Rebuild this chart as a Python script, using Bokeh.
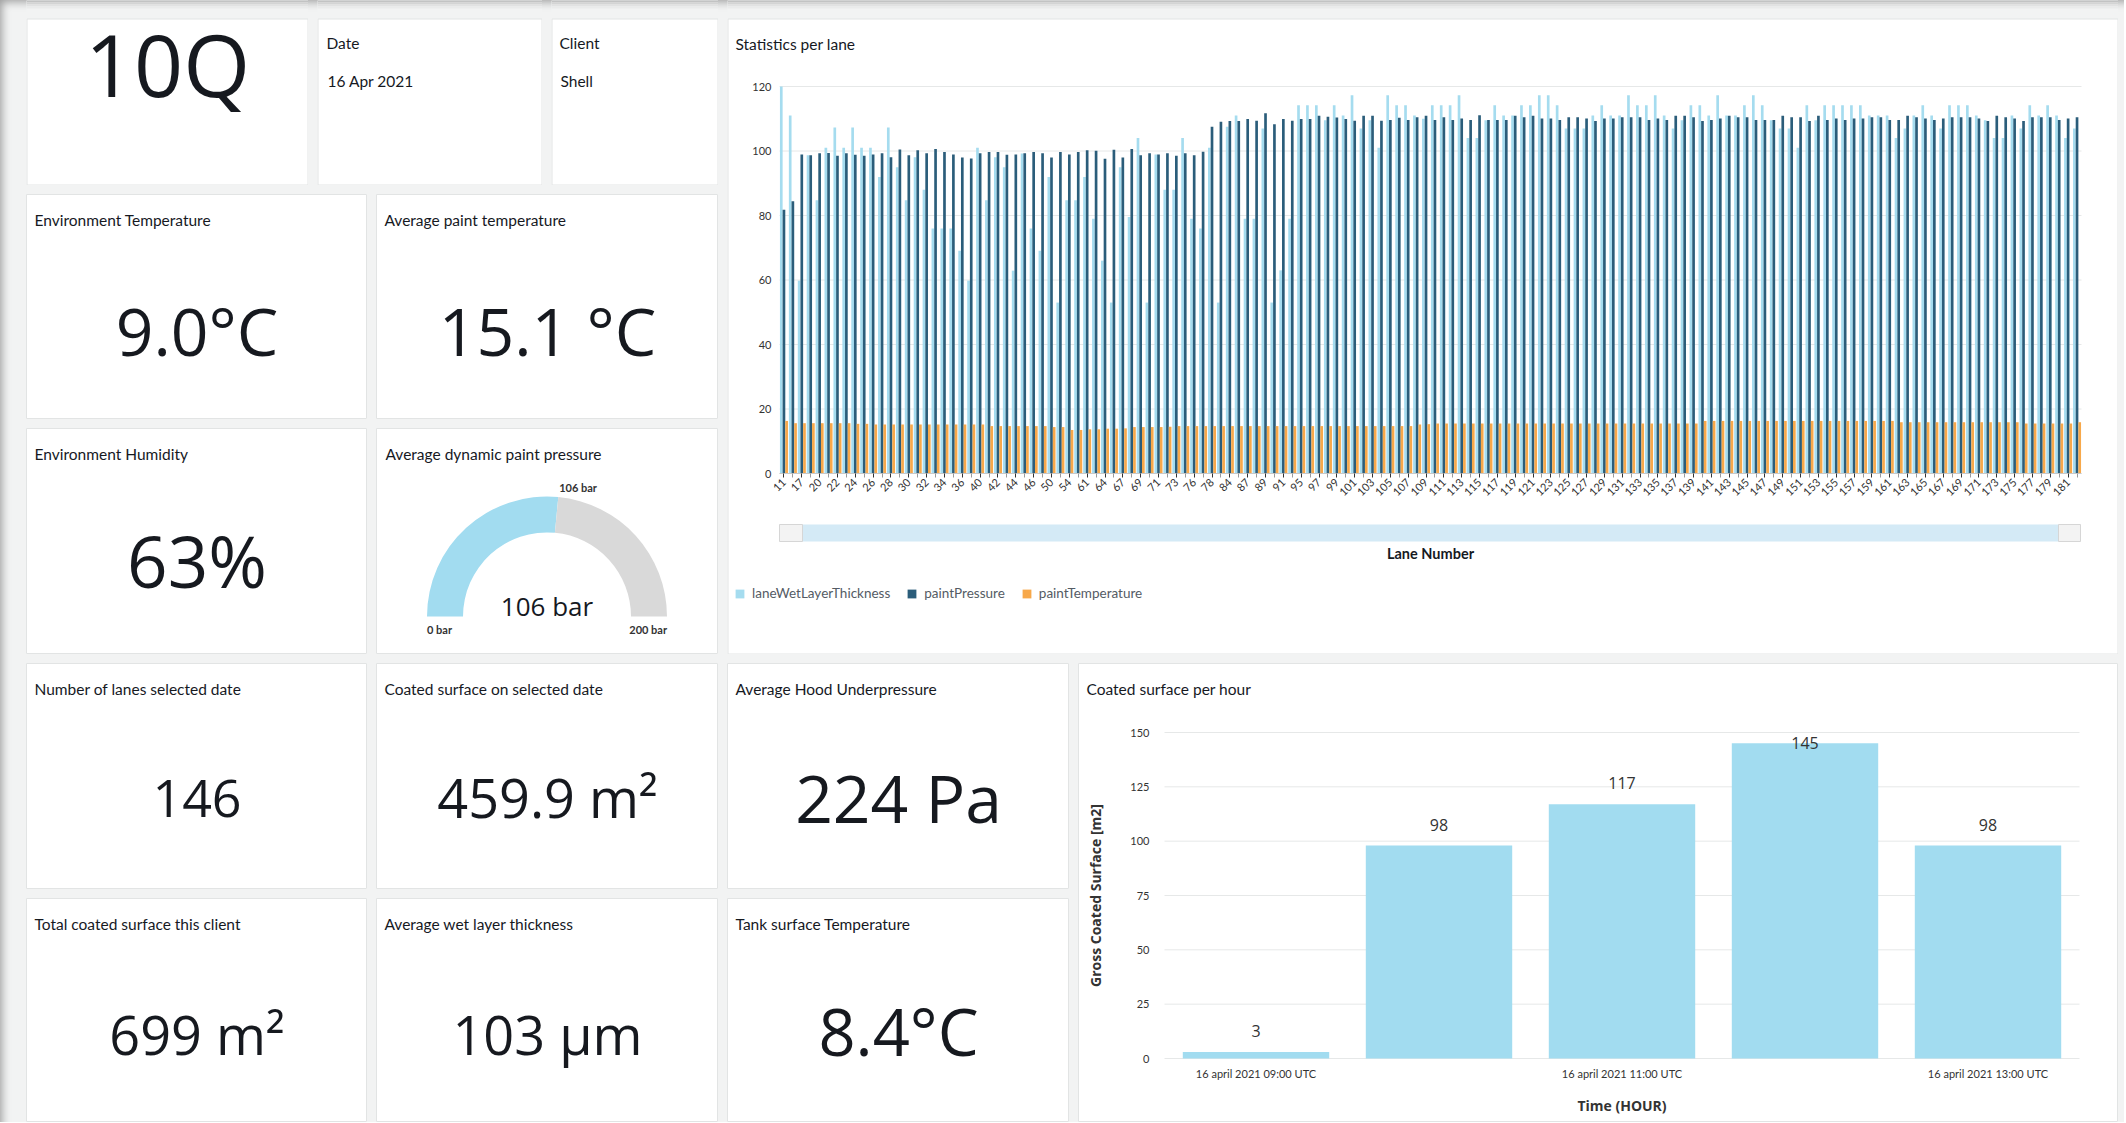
from math import pi, cos, sin
from bokeh.plotting import figure
from bokeh.layouts import row, column
from bokeh.models import Spacer, Range1d, ColumnDataSource, FixedTicker
from bokeh.transform import dodge
from bokeh.core.properties import value
from bokeh.embed import file_html
from bokeh.resources import INLINE

# ---------------- data ----------------
machine_id = "10Q"
report_date = "16 Apr 2021"
client_name = "Shell"

kpi_titles = ["Environment Temperature", "Average paint temperature", "Environment Humidity",
              "Number of lanes selected date", "Coated surface on selected date", "Average Hood Underpressure",
              "Total coated surface this client", "Average wet layer thickness", "Tank surface Temperature"]
kpi_values = ["9.0°C", "15.1 °C", "63%", "146", "459.9 m²", "224 Pa", "699 m²", "103 µm", "8.4°C"]

gauge_title = "Average dynamic paint pressure"
gauge_value = 106
gauge_min = 0
gauge_max = 200
gauge_unit = "bar"

lanes = ["11", "14", "17", "19", "20", "21", "22", "23", "24", "25",
         "26", "27", "28", "29", "30", "31", "32", "33", "34", "35",
         "36", "38", "40", "41", "42", "43", "44", "45", "46", "48",
         "50", "52", "54", "57", "61", "62", "64", "65", "67", "68",
         "69", "70", "71", "72", "73", "74", "76", "77", "78", "80",
         "84", "85", "87", "88", "89", "90", "91", "93", "95", "96",
         "97", "98", "99", "100", "101", "102", "103", "104", "105", "106",
         "107", "108", "109", "110", "111", "112", "113", "114", "115", "116",
         "117", "118", "119", "120", "121", "122", "123", "124", "125", "126",
         "127", "128", "129", "130", "131", "132", "133", "134", "135", "136",
         "137", "138", "139", "140", "141", "142", "143", "144", "145", "146",
         "147", "148", "149", "150", "151", "152", "153", "154", "155", "156",
         "157", "158", "159", "160", "161", "162", "163", "164", "165", "166",
         "167", "168", "169", "170", "171", "172", "173", "174", "175", "176",
         "177", "178", "179", "180", "181", "182"]

lane_wet_layer_thickness = [
    120, 111, 59.8, 98.7, 84.7, 101, 107.3, 101, 107.3, 101,
    101, 91.9, 107.3, 95, 84.7, 98.1, 88, 76, 76, 76,
    69.1, 59.8, 101, 84.7, 98.1, 95, 62.9, 99.2, 76, 69.1,
    91.9, 53, 84.7, 84.7, 91.9, 79, 66, 53, 95, 79.5,
    104, 53, 98.9, 88, 88, 104, 79, 76, 101, 53,
    107.5, 111, 79, 79, 107, 53, 63, 79, 114.2, 114.2,
    114.2, 109.5, 114.2, 111, 117.3, 107, 109.5, 101, 117.3, 114.2,
    114.2, 111, 110, 114.2, 114.2, 114.2, 117.3, 104, 104, 109.5,
    114.2, 111, 111, 114.2, 114.2, 117.3, 117.3, 114.2, 107, 107,
    107, 111, 114.2, 111, 111, 117.3, 114.2, 114.2, 117.3, 111,
    107, 109.5, 114.2, 114.2, 111, 117.3, 111, 111, 114.2, 117.3,
    114.2, 109.5, 107, 107, 101, 114.2, 109.5, 114.2, 114.2, 114.2,
    114.2, 114.2, 111, 111, 111, 104, 107, 111, 114.2, 111,
    107, 114.2, 114.2, 114.2, 111, 109.5, 104, 104, 111, 107,
    114.2, 111, 114.2, 111, 104, 107]

paint_pressure = [
    81.8, 84.4, 98.9, 98.7, 99.3, 99.4, 98.5, 99.3, 98.8, 98.5,
    98.9, 99.3, 98.1, 100.5, 98.7, 100.2, 99.3, 100.6, 99.7, 98.9,
    98.0, 97.7, 99.3, 99.7, 99.7, 98.8, 98.9, 99.3, 99.7, 99.3,
    98.0, 99.7, 98.9, 99.7, 100.2, 100.1, 97.6, 100.4, 98.0, 100.6,
    98.7, 99.3, 98.9, 99.3, 98.5, 99.3, 98.7, 99.8, 107.5, 109.1,
    109.3, 109.3, 109.9, 109.4, 111.7, 108.3, 109.9, 109.4, 109.9, 109.9,
    110.9, 110.6, 110.4, 109.9, 109.4, 110.9, 110.9, 109.4, 109.6, 110.3,
    109.6, 110.5, 110.9, 109.6, 110.5, 109.6, 110.1, 109.6, 111.1, 109.6,
    109.6, 109.6, 110.9, 110.5, 110.9, 110.1, 110.1, 109.6, 110.5, 110.5,
    110.1, 109.3, 110.1, 110.1, 110.5, 110.5, 110.5, 109.6, 110.1, 109.6,
    110.9, 110.9, 110.5, 109.3, 109.6, 110.1, 110.9, 110.5, 110.5, 109.6,
    109.6, 109.6, 110.9, 110.5, 110.5, 109.3, 110.9, 109.6, 110.1, 109.6,
    110.1, 110.1, 110.5, 110.5, 109.6, 109.6, 110.9, 110.5, 110.1, 109.6,
    110.1, 110.5, 110.5, 110.5, 110.1, 109.3, 110.9, 110.5, 110.1, 109.3,
    110.5, 110.5, 110.5, 109.6, 110.1, 110.5]

paint_temperature = [
    16.3, 15.6, 15.6, 15.6, 15.6, 15.6, 15.6, 15.6, 15.4, 15.4,
    15.2, 15.2, 15.2, 15.2, 15.2, 15.2, 15.2, 15.2, 15.2, 15.2,
    15.2, 15.2, 15.2, 14.7, 14.7, 14.7, 14.7, 14.7, 14.7, 14.7,
    14.4, 14.4, 13.5, 13.5, 13.7, 13.7, 13.9, 13.9, 14.0, 14.4,
    14.4, 14.4, 14.4, 14.5, 14.7, 14.7, 14.7, 14.7, 14.7, 14.7,
    14.7, 14.7, 14.7, 14.7, 14.7, 14.7, 14.7, 14.7, 14.7, 14.7,
    14.7, 14.7, 14.7, 14.7, 14.7, 14.7, 14.7, 14.7, 14.7, 14.7,
    14.7, 15.2, 15.3, 15.5, 15.5, 15.5, 15.5, 15.5, 15.5, 15.5,
    15.5, 15.5, 15.5, 15.5, 15.5, 15.5, 15.5, 15.5, 15.5, 15.5,
    15.5, 15.5, 15.5, 15.5, 15.5, 15.5, 15.5, 15.5, 15.5, 15.5,
    15.5, 15.5, 15.5, 16.3, 16.3, 16.3, 16.3, 16.3, 16.3, 16.3,
    16.3, 16.3, 16.3, 16.3, 16.3, 16.3, 16.3, 16.3, 16.3, 16.3,
    16.3, 16.3, 16.3, 16.3, 16.3, 15.9, 15.9, 15.9, 15.9, 15.9,
    15.9, 15.9, 15.9, 15.9, 15.9, 15.9, 15.9, 15.9, 15.9, 15.5,
    15.5, 15.5, 15.5, 15.5, 15.5, 15.9]

series_names = ["laneWetLayerThickness", "paintPressure", "paintTemperature"]
lane_y_ticks = [0, 20, 40, 60, 80, 100, 120]

hours = ["16 april 2021 09:00 UTC", "16 april 2021 10:00 UTC", "16 april 2021 11:00 UTC",
         "16 april 2021 12:00 UTC", "16 april 2021 13:00 UTC"]
hour_tick_labels = ["16 april 2021 09:00 UTC", "", "16 april 2021 11:00 UTC", "", "16 april 2021 13:00 UTC"]
coated_per_hour = [3, 98, 117, 145, 98]
hour_y_ticks = [0, 25, 50, 75, 100, 125, 150]

# ---------------- style ----------------
PAGE_BG = "#f2f3f3"
CARD_BORDER = "#e2e4e4"
INK = "#16191f"
C_WET = "#a5dcef"
C_PRES = "#2b5d7a"
C_TEMP = "#f7a84a"
C_HOUR = "#a2dcf0"
GRID = "#e6e8e8"
F_TXT = value("Lato")
F_NUM = value("Open Sans")
MID = 0.385  # em-box middle above baseline
BAND = 18    # page gap above the first row, drawn inside the first-row figures
SHADE = ["#c2c3c3", "#d3d4d4", "#e1e2e2", "#eaebeb"]
CARD_H = {}


def blank(w, h, band=0):
    p = figure(width=w, height=h + band, x_range=Range1d(0, w), y_range=Range1d(0, h + band),
               x_axis_type=None, y_axis_type=None, toolbar_location=None,
               output_backend="svg", min_border=0, title=None,
               background_fill_color="white" if band == 0 else PAGE_BG, border_fill_color="white",
               outline_line_color=CARD_BORDER if band == 0 else None)
    CARD_H[id(p)] = h
    if band:
        p.quad(left=[0.5], right=[w - 0.5], bottom=[0.5], top=[h - 0.5],
               fill_color="white", line_color=CARD_BORDER)
        for k, c in enumerate(SHADE):
            p.quad(left=[0], right=[w], top=[h + band - 2 * k], bottom=[h + band - 2 * k - 2],
                   fill_color=c, line_color=None)
    return p


def put(p, x, y, s, size, font=F_TXT, color=INK, align="left", style="normal"):
    # y is measured from the top of the card, text is vertically centred there
    p.text(x=[x], y=[CARD_H[id(p)] - y], text=[s], text_font=font, text_font_size=f"{size}px",
           text_color=color, text_align=align, text_baseline="middle", text_font_style=style)


def kpi_card(w, h, title, val, size, base):
    p = blank(w, h)
    put(p, 8, 25, title, 15.5)
    put(p, w / 2, base - MID * size, val, size, font=F_NUM, align="center")
    return p


# top row small cards (with the page gap above them)
c_id = blank(282, 167, BAND)
put(c_id, 141, 78 - MID * 86, machine_id, 86, font=F_NUM, align="center")

c_date = blank(225, 167, BAND)
put(c_date, 9, 24, "Date", 15.5)
put(c_date, 10, 62, report_date, 15.5)

c_client = blank(167, 167, BAND)
put(c_client, 8, 24, "Client", 15.5)
put(c_client, 9, 62, client_name, 15.5)

c_envt = kpi_card(341, 225, kpi_titles[0], kpi_values[0], 66, 161)
c_paintt = kpi_card(342, 225, kpi_titles[1], kpi_values[1], 66, 161)
c_hum = kpi_card(341, 226, kpi_titles[2], kpi_values[2], 71, 159)

# gauge card
GW, GH = 342, 226
c_gauge = blank(GW, GH)
put(c_gauge, 9, 25, gauge_title, 15.5)
cx, cy, r_in, r_out = 170.5, GH - 188, 84, 120
ang = pi * (1 - (gauge_value - gauge_min) / (gauge_max - gauge_min))
c_gauge.annular_wedge(x=[cx], y=[cy], inner_radius=r_in, outer_radius=r_out,
                      start_angle=ang, end_angle=pi, fill_color=C_HOUR, line_color=None)
c_gauge.annular_wedge(x=[cx], y=[cy], inner_radius=r_in, outer_radius=r_out,
                      start_angle=0, end_angle=ang, fill_color="#d9d9d9", line_color=None)
put(c_gauge, cx, 188 - MID * 26, f"{gauge_value} {gauge_unit}", 26, font=F_NUM, align="center")
put(c_gauge, cx - r_out, 201, f"{gauge_min} {gauge_unit}", 11, color="#333333", style="bold")
put(c_gauge, cx + r_out, 201, f"{gauge_max} {gauge_unit}", 11, color="#333333", align="right", style="bold")
put(c_gauge, cx + 130 * cos(ang), 188 - 130 * sin(ang), f"{gauge_value} {gauge_unit}", 11,
    color="#333333", style="bold")

c_lanes = kpi_card(341, 226, kpi_titles[3], kpi_values[3], 52, 155)
c_coated = kpi_card(342, 226, kpi_titles[4], kpi_values[4], 54, 154)
c_hood = kpi_card(342, 226, kpi_titles[5], kpi_values[5], 66, 159)
R5 = 224
c_total = kpi_card(341, R5, kpi_titles[6], kpi_values[6], 54, 156)
c_wet = kpi_card(342, R5, kpi_titles[7], kpi_values[7], 54, 156)
c_tank = kpi_card(342, R5, kpi_titles[8], kpi_values[8], 65, 158)


class Mapper:
    """pixel (from figure left / from card top) -> data coordinates of a whole-figure frame"""
    def __init__(self, w, h, xr, yr, top_off=0):
        self.w, self.h, self.xr, self.yr, self.off = w, h, xr, yr, top_off

    def x(self, px):
        return self.xr[0] + px * (self.xr[1] - self.xr[0]) / self.w

    def y(self, py):
        return self.yr[1] - (py + self.off) * (self.yr[1] - self.yr[0]) / self.h


# ---------------- lane chart card ----------------
LW, LH = 1391, 636
FH = LH + BAND
n = len(lanes)
L_left, L_right, L_top, L_bot = 52, 37, 68 + BAND, 181
xs = (LW - L_left - L_right) / n
ys = (FH - L_top - L_bot) / 120
lxr = (-0.5 - L_left / xs, n - 0.5 + L_right / xs)
lyr = (-L_bot / ys, 120 + L_top / ys)
lm = Mapper(LW, FH, lxr, lyr, BAND)

src = ColumnDataSource(dict(pos=list(range(n)), lane=lanes, wet=lane_wet_layer_thickness,
                            pres=paint_pressure, temp=paint_temperature))
pl = figure(width=LW, height=FH, x_range=Range1d(*lxr), y_range=Range1d(*lyr),
            toolbar_location=None, output_backend="svg", title=None, min_border=0,
            outline_line_color=None, background_fill_color=PAGE_BG, border_fill_color="white")
pl.grid.visible = False
pl.quad(left=[lm.x(0.5)], right=[lm.x(LW - 0.5)], top=[lm.y(0.5)], bottom=[lm.y(LH - 0.5)],
        fill_color="white", line_color=CARD_BORDER)
for k, c in enumerate(SHADE):
    pl.quad(left=[lxr[0]], right=[lxr[1]], top=[lm.y(-BAND + 2 * k)], bottom=[lm.y(-BAND + 2 * k + 2)],
            fill_color=c, line_color=None)
pl.segment(x0=[-0.5] * len(lane_y_ticks), x1=[n - 0.5] * len(lane_y_ticks),
           y0=lane_y_ticks, y1=lane_y_ticks, line_color=GRID, line_width=1)
for off, fld, col, nm in zip([-0.3, 0.0, 0.3], ["wet", "pres", "temp"], [C_WET, C_PRES, C_TEMP], series_names):
    pl.vbar(x=dodge("pos", off), top=fld, width=0.3, source=src, fill_color=col, line_color=None,
            legend_label=nm)

pl.xaxis.fixed_location = 0
pl.yaxis.fixed_location = -0.5
pl.xaxis.bounds = (-0.5, n - 0.5)
pl.yaxis.bounds = (0, 120)
pl.yaxis.ticker = FixedTicker(ticks=lane_y_ticks)
pl.yaxis.axis_line_color = None
pl.yaxis.major_tick_line_color = None
pl.yaxis.minor_tick_line_color = None
pl.yaxis.major_tick_out = 0
pl.yaxis.minor_tick_out = 0
pl.yaxis.major_label_standoff = 8
pl.axis.major_label_text_font = "Lato"
pl.axis.major_label_text_font_size = "11px"
pl.axis.major_label_text_color = "#333333"
pl.xaxis.ticker = FixedTicker(ticks=list(range(0, n, 2)), minor_ticks=list(range(1, n, 2)))
pl.xaxis.major_label_overrides = {i: lanes[i] for i in range(0, n, 2)}
pl.xaxis.major_label_orientation = pi / 4
pl.xaxis.axis_line_color = "#c8c8c8"
pl.xaxis.major_tick_line_color = "#333333"
pl.xaxis.minor_tick_line_color = "#9a9a9a"
pl.xaxis.major_tick_out = 4
pl.xaxis.major_tick_in = 0
pl.xaxis.minor_tick_out = 4
pl.xaxis.minor_tick_in = 0
pl.xaxis.major_label_standoff = 3

# title, scrollbar, axis title
pl.text(x=[lm.x(8)], y=[lm.y(25)], text=["Statistics per lane"], text_font=F_TXT,
        text_font_size="15.5px", text_color=INK, text_baseline="middle")
pl.quad(left=[lm.x(52)], right=[lm.x(1353)], bottom=[lm.y(523)], top=[lm.y(506)],
        fill_color="#d4eaf6", line_color=None)
pl.quad(left=[lm.x(52), lm.x(1331)], right=[lm.x(75), lm.x(1353)],
        bottom=[lm.y(523)] * 2, top=[lm.y(506)] * 2, fill_color="#f3f3f3", line_color="#d6d6d6")
pl.text(x=[lm.x(703)], y=[lm.y(535)], text=["Lane Number"], text_font=F_TXT,
        text_font_size="14.5px", text_color=INK, text_align="center", text_baseline="middle",
        text_font_style="bold")

lg = pl.legend[0]
lg.location = (7, LH - 576 - 7)
lg.orientation = "horizontal"
lg.margin = 0
lg.padding = 0
lg.spacing = 16
lg.glyph_width = 11
lg.glyph_height = 11
lg.label_standoff = 7
lg.label_height = 12
lg.label_text_font = "Lato"
lg.label_text_font_size = "13.5px"
lg.label_text_color = "#545b64"
lg.border_line_color = None
lg.background_fill_alpha = 0

# ---------------- hourly chart card ----------------
HW = 1040
HH = 226 + 9 + R5
m = len(hours)
H_left, H_right, H_top, H_bot0 = 86, 39, 69, 395
ymax = 150
hxs = (HW - H_left - H_right) / m
hys = (H_bot0 - H_top) / ymax
hxr = (-0.5 - H_left / hxs, m - 0.5 + H_right / hxs)
hyr = (-(HH - H_bot0) / hys, ymax + H_top / hys)
hm = Mapper(HW, HH, hxr, hyr)

label_y = [min(v + 21 / hys, ymax - 10 / hys) for v in coated_per_hour]
hsrc = ColumnDataSource(dict(pos=list(range(m)), hour=hours, val=coated_per_hour, ly=label_y,
                             lab=[str(v) for v in coated_per_hour]))
ph = figure(width=HW, height=HH, x_range=Range1d(*hxr), y_range=Range1d(*hyr),
            toolbar_location=None, output_backend="svg", title=None, min_border=0,
            outline_line_color=CARD_BORDER, background_fill_color="white", border_fill_color="white")
ph.grid.visible = False
ph.segment(x0=[-0.5] * len(hour_y_ticks), x1=[m - 0.5] * len(hour_y_ticks),
           y0=hour_y_ticks, y1=hour_y_ticks, line_color=GRID, line_width=1)
ph.vbar(x="pos", top="val", width=0.8, source=hsrc, fill_color=C_HOUR, line_color=None)
ph.text(x="pos", y="ly", text="lab", source=hsrc, text_font=F_NUM, text_font_size="16px",
        text_color="#333333", text_align="center", text_baseline="middle")
ph.text(x=[hm.x(8)], y=[hm.y(25)], text=["Coated surface per hour"], text_font=F_TXT,
        text_font_size="15.5px", text_color=INK, text_baseline="middle")

ph.xaxis.fixed_location = 0
ph.yaxis.fixed_location = -0.5
ph.xaxis.bounds = (-0.5, m - 0.5)
ph.yaxis.bounds = (0, ymax)
ph.yaxis.ticker = FixedTicker(ticks=hour_y_ticks)
ph.xaxis.ticker = FixedTicker(ticks=list(range(m)))
ph.xaxis.major_label_overrides = {i: hour_tick_labels[i] for i in range(m)}
ph.axis.axis_line_color = None
ph.axis.major_tick_line_color = None
ph.axis.minor_tick_line_color = None
ph.axis.major_tick_out = 0
ph.axis.major_tick_in = 0
ph.axis.minor_tick_out = 0
ph.axis.major_label_text_font = "Lato"
ph.axis.major_label_text_font_size = "11px"
ph.axis.major_label_text_color = "#333333"
ph.yaxis.major_label_standoff = 15
ph.xaxis.major_label_standoff = 8
ph.yaxis.axis_label = "Gross Coated Surface [m2]"
ph.xaxis.axis_label = "Time (HOUR)"
ph.axis.axis_label_text_font = "Open Sans"
ph.axis.axis_label_text_font_size = "14px"
ph.axis.axis_label_text_font_style = "bold"
ph.axis.axis_label_text_color = "#333333"
ph.yaxis.axis_label_standoff = 22
ph.xaxis.axis_label_standoff = 13

# ---------------- layout ----------------
top_left = column(
    row(c_id, c_date, c_client, spacing=9),
    row(c_envt, c_paintt, spacing=9),
    row(c_hum, c_gauge, spacing=9),
    spacing=9)
top = row(top_left, pl, spacing=9)
bottom_left = column(row(c_lanes, c_coated, c_hood, spacing=9),
                     row(c_total, c_wet, c_tank, spacing=9), spacing=9)
bottom = row(bottom_left, ph, spacing=9)
content = column(top, bottom, spacing=9)
page = column(Spacer(width=2124, height=0),
              row(Spacer(width=26, height=FH + 9 + HH), content, spacing=0),
              spacing=0,
              styles={"background-color": PAGE_BG,
                      "box-shadow": "inset 7px 7px 8px -5px rgba(0,0,0,0.35)"})

open("out.html", "w").write(file_html(page, INLINE))
